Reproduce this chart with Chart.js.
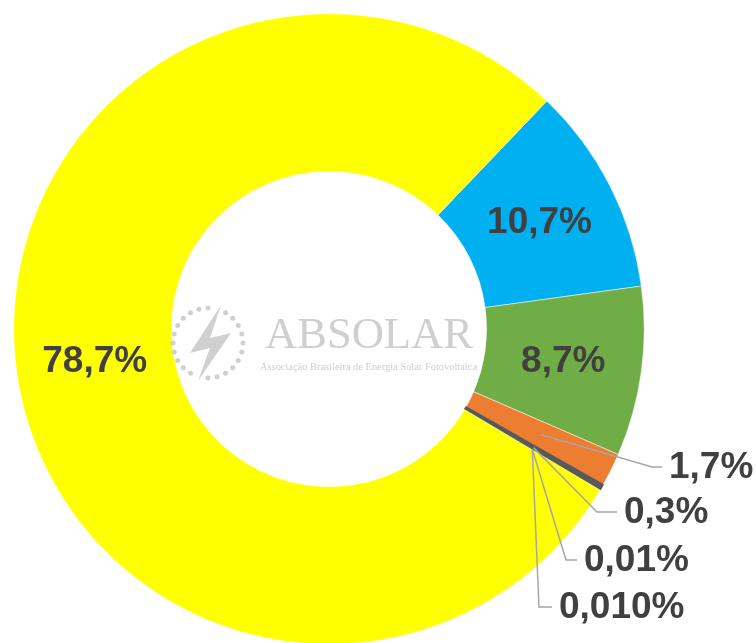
<!DOCTYPE html>
<html>
<head>
<meta charset="utf-8">
<script src="https://cdn.jsdelivr.net/npm/chart.js@4/dist/chart.umd.min.js"></script>
<style>
  html, body { margin: 0; padding: 0; background: #fff; overflow: hidden; }
  canvas { display: block; }
</style>
</head>
<body>
<canvas id="classes" width="756" height="658"></canvas>
<script>
// Dados (participação por classe de consumo, %)
const classes = ['Comercial', 'Rural', 'Industrial', 'Poder Público', 'Serviço Público', 'Iluminação Pública', 'Residencial']
const valores = [10.7, 8.7, 1.7, 0.3, 0.01, 0.01, 78.7]
const rotulos = ['10,7%', '8,7%', '1,7%', '0,3%', '0,01%', '0,010%', '78,7%']
const cores = ['#00B0F0', '#70AD47', '#ED7D31', '#595959', '#264478', '#9E480E', '#FFFF00']

// rótulos externos: cotovelo da linha (relativo ao centro) e tamanho do traço horizontal
const externos = {
    2: {dx: 323, dy: 138, traco: 10},
    3: {dx: 268, dy: 183, traco: 20},
    4: {dx: 237, dy: 231, traco: 11},
    5: {dx: 210, dy: 278, traco: 13}
}

const fonteRotulo = 'bold 37px "Liberation Sans", Arial, sans-serif'

//Marca d'água ABSOLAR no furo do gráfico
const desenha_logo = (ctx, cx, cy) => {
    ctx.save()
    ctx.fillStyle = '#d0d0d0'
    // anel de pontos
    const lx = cx - 121, ly = cy + 14
    for (let k = 0; k < 24; k++) {
        const a = k * Math.PI * 2 / 24
        const deg = k * 15
        if (deg === 15 || deg === 195) continue
        ctx.beginPath()
        ctx.arc(lx + 35 * Math.sin(a), ly - 35 * Math.cos(a), 2.5, 0, Math.PI * 2)
        ctx.fill()
    }
    // raio
    const raio = [[13, -38], [-18, 10], [2, 5], [-10, 38], [23, -10], [2, -5]]
    ctx.beginPath()
    raio.forEach(([x, y], i) => i ? ctx.lineTo(lx + x, ly + y) : ctx.moveTo(lx + x, ly + y))
    ctx.closePath()
    ctx.fill()
    // texto
    ctx.fillStyle = '#cfcfcf'
    ctx.textBaseline = 'alphabetic'
    ctx.textAlign = 'left'
    ctx.font = '45px "Liberation Serif", "DejaVu Serif", serif'
    ctx.fillText('ABSOLAR', cx - 64, cy + 19, 208)
    ctx.font = '11px "Liberation Serif", "DejaVu Serif", serif'
    ctx.fillText('Associação Brasileira de Energia Solar Fotovoltaica', cx - 69, cy + 41, 217)
    ctx.restore()
}

const plugin_rotulos = {
    id: 'rotulos',
    afterDatasetsDraw(chart) {
        const ctx = chart.ctx
        const arcs = chart.getDatasetMeta(0).data
        const cx = arcs[0].x, cy = arcs[0].y
        desenha_logo(ctx, cx, cy)

        ctx.save()
        ctx.font = fonteRotulo
        ctx.fillStyle = '#404040'
        ctx.textBaseline = 'middle'
        arcs.forEach((arc, i) => {
            const p = arc.tooltipPosition()
            const ext = externos[i]
            if (!ext) {
                ctx.textAlign = 'center'
                ctx.fillText(rotulos[i], p.x, p.y + 1)
                return
            }
            const ex = cx + ext.dx, ey = cy + ext.dy
            ctx.strokeStyle = '#A6A6A6'
            ctx.lineWidth = 1.5
            ctx.beginPath()
            ctx.moveTo(p.x, p.y)
            ctx.lineTo(ex, ey)
            ctx.lineTo(ex + ext.traco, ey)
            ctx.stroke()
            ctx.textAlign = 'left'
            ctx.fillText(rotulos[i], ex + ext.traco + 7, ey + 1)
        })
        ctx.restore()
    }
}

new Chart(document.querySelector('#classes'), {
    type: 'doughnut',
    data: {
        labels: classes,
        datasets: [{
            data: valores,
            backgroundColor: cores,
            borderColor: ['#ffffff', '#ffffff', '#ffffff', '#595959', '#ffffff', '#ffffff', '#ffffff'],
            borderWidth: [0.5, 0.5, 0.5, 1.5, 0, 0, 0.5]
        }]
    },
    options: {
        responsive: false,
        animation: false,
        rotation: 43.7,
        cutout: '50%',
        layout: {padding: {left: 13, top: 13, right: 111, bottom: 13}},
        plugins: {
            legend: {display: false},
            tooltip: {enabled: false}
        }
    },
    plugins: [plugin_rotulos]
})
</script>
</body>
</html>
